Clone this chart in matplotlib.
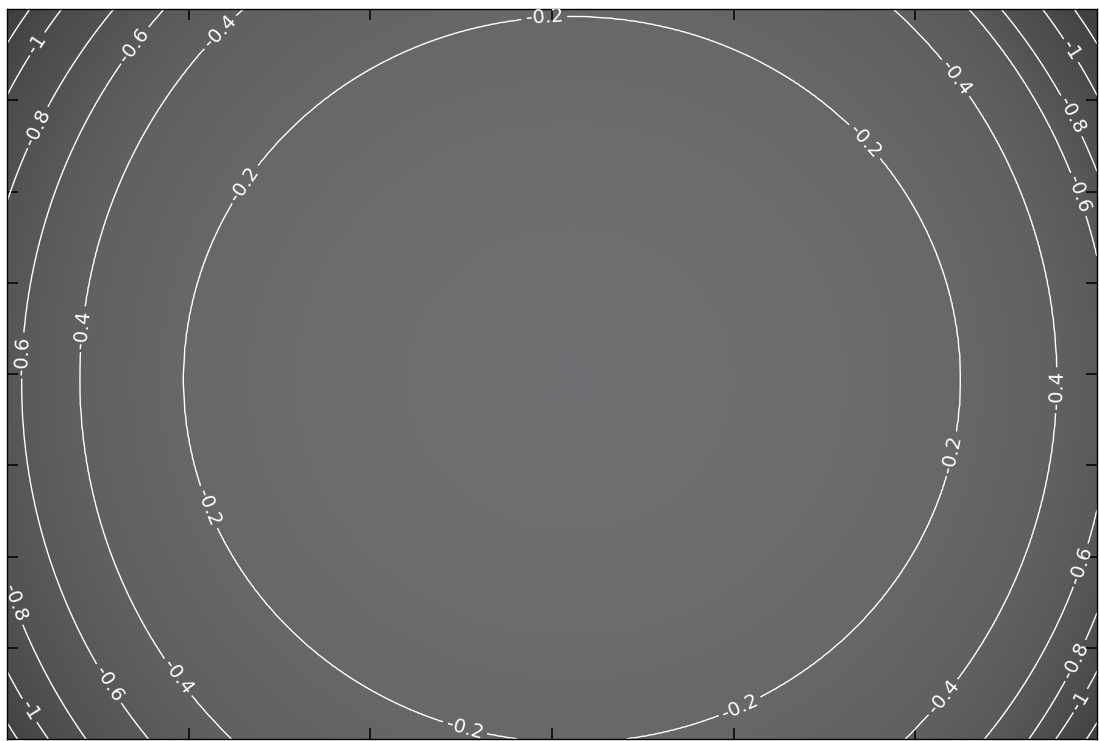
import numpy as np
import matplotlib
matplotlib.use('Agg')
import matplotlib.pyplot as plt
from matplotlib.colors import LinearSegmentedColormap

# Each level follows a near-ellipse; centre and half-axes (data units)
level_values = [-0.05, -0.2, -0.4, -0.6, -0.8, -1.0, -1.2, -1.4]
level_cx = [0.10, 0.11, 0.09, 0.08, 0.03, 0.00, 0.00, 0.00]
level_cy = [-0.03, -0.03, -0.03, -0.05, -0.10, -0.05, -0.05, -0.05]
level_rx = [1.40, 2.14, 2.69, 3.00, 3.20, 3.39, 3.53, 3.68]
level_ry = [1.30, 1.99, 2.72, 3.04, 3.25, 3.39, 3.53, 3.68]

label_levels = [-1.0, -0.8, -0.6, -0.4, -0.2]
corner_levels = [-1.2]   # drawn, but too short to carry a label

x_ticks = [-2, -1, 0, 1, 2]
y_ticks = [-1.5, -1.0, -0.5, 0.0, 0.5, 1.0, 1.5]

# where the inline labels sit
label_pos = [
    (-0.04, 1.91), (-1.72, 1.06), (1.67, 1.23), (-1.97, -0.75), (2.22, -0.44),
    (-0.48, -1.94), (1.06, -1.87),
    (-1.78, 1.83), (-2.55, 0.24), (-2.08, -1.68), (2.14, 1.56), (2.81, -0.09), (2.11, -1.73),
    (-2.31, 1.81), (-2.88, 0.10), (-2.49, -1.73), (2.88, 0.98), (2.94, -1.06),
    (-2.85, 1.36), (-2.90, -1.24), (2.89, 1.43), (2.88, -1.57),
    (-2.82, 1.80), (2.84, 1.76), (-2.87, -1.84), (2.96, -1.82),
]


def build_field(X, Y):
    """Blend between the measured level ellipses to get a smooth surface."""
    v = np.array(level_values)
    E = np.stack([np.hypot((X - cx) / rx, (Y - cy) / ry)
                  for cx, cy, rx, ry in zip(level_cx, level_cy, level_rx, level_ry)])
    inside = E <= 1.0
    idx = np.where(inside.any(axis=0), inside.argmax(axis=0), len(v) - 1)
    F = np.empty_like(X)
    inner = idx == 0
    F[inner] = v[0] * E[0][inner]
    k = idx[~inner]
    e_out = np.take_along_axis(E, (idx - 1).clip(0)[None], axis=0)[0][~inner]
    e_in = np.take_along_axis(E, idx[None], axis=0)[0][~inner]
    t = np.clip((e_out - 1.0) / (e_out - e_in), 0, 1.5)
    F[~inner] = v[k - 1] + t * (v[k] - v[k - 1])
    return F


xs = np.linspace(-3, 3, 700)
ys = np.linspace(-2, 2, 480)
X, Y = np.meshgrid(xs, ys)
Z = build_field(X, Y)

fig = plt.figure(figsize=(10.99, 7.41), dpi=100)
ax = fig.add_axes([7 / 1099, 2 / 741, 1090 / 1099, 730 / 741])

shade = LinearSegmentedColormap.from_list('shade', ['#3d3d40', '#6f6f72'])
ax.imshow(Z, extent=(-3, 3, -2, 2), origin='lower', cmap=shade, vmin=-1.4, vmax=0,
          aspect='auto', interpolation='bilinear')

ax.contour(X, Y, Z, levels=corner_levels, colors='white', linewidths=1.0,
           linestyles='solid')
cs = ax.contour(X, Y, Z, levels=label_levels, colors='white', linewidths=1.0,
                linestyles='solid')
ax.clabel(cs, fmt='%g', fontsize=14, colors='white',
          inline=True, inline_spacing=4, manual=label_pos)

ax.set_xlim(-3, 3)
ax.set_ylim(-2, 2)
ax.set_xticks(x_ticks)
ax.set_yticks(y_ticks)
ax.tick_params(direction='in', length=8, width=1.1, top=True, right=True,
               labelbottom=False, labelleft=False)
for s in ax.spines.values():
    s.set_linewidth(1.0)

fig.savefig('out.png', dpi=100)
